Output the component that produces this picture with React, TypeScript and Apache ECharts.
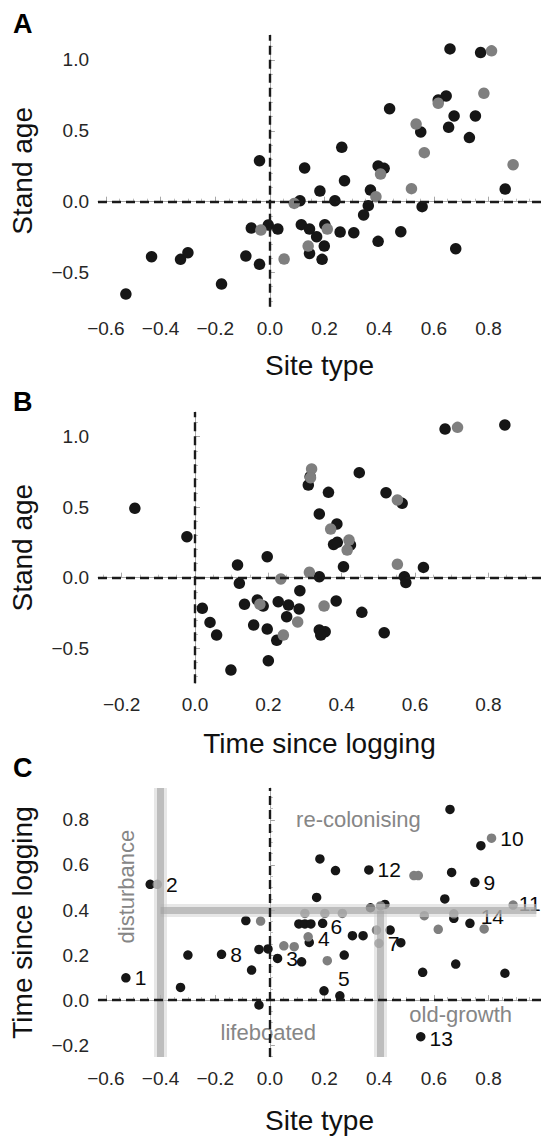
import React, { useEffect, useRef } from "react";
import * as echarts from "echarts";

// ---------- Panel A: Stand age vs Site type ----------
const aBlack: [number, number][] = [
  [0.659, 1.078], [0.771, 1.052], [0.645, 0.746], [0.616, 0.718], [0.438, 0.656],
  [0.674, 0.605], [0.752, 0.605], [0.654, 0.525], [0.552, 0.492], [0.73, 0.452],
  [0.263, 0.384], [-0.038, 0.289], [0.127, 0.238], [0.396, 0.252], [0.418, 0.235],
  [0.273, 0.148], [0.183, 0.075], [0.368, 0.082], [0.861, 0.089], [0.11, 0.007],
  [0.238, 0.007], [0.557, -0.035], [0.36, -0.028], [0.343, -0.094], [-0.006, -0.165],
  [-0.068, -0.186], [0.029, -0.193], [0.115, -0.162], [0.145, -0.193], [0.201, -0.162],
  [0.171, -0.247], [0.257, -0.214], [0.307, -0.219], [0.479, -0.212], [0.199, -0.313],
  [0.145, -0.365], [0.191, -0.407], [0.396, -0.28], [0.68, -0.332], [-0.433, -0.388],
  [-0.327, -0.407], [-0.3, -0.36], [-0.088, -0.384], [-0.038, -0.442], [-0.177, -0.581],
  [-0.527, -0.652],
];
const aGray: [number, number][] = [
  [0.811, 1.064], [0.783, 0.765], [0.616, 0.694], [0.535, 0.548], [0.565, 0.346],
  [0.405, 0.195], [0.89, 0.261], [0.518, 0.092], [0.388, 0.035], [0.089, -0.012],
  [-0.033, -0.2], [0.21, -0.193], [0.14, -0.313], [0.052, -0.405],
];

// ---------- Panel B: Stand age vs Time since logging ----------
const bBlack: [number, number][] = [
  [0.845, 1.083], [0.682, 1.054], [0.448, 0.745], [0.314, 0.716], [0.309, 0.657],
  [0.364, 0.605], [0.521, 0.603], [0.565, 0.527], [-0.164, 0.492], [0.339, 0.452],
  [0.387, 0.381], [-0.022, 0.291], [0.378, 0.236], [0.388, 0.251], [0.424, 0.232],
  [0.197, 0.149], [0.116, 0.09], [0.405, 0.078], [0.623, 0.073], [0.339, 0.007],
  [0.571, 0.007], [0.575, -0.035], [0.121, -0.04], [0.286, -0.092], [0.02, -0.217],
  [0.135, -0.189], [0.17, -0.158], [0.186, -0.201], [0.227, -0.17], [0.255, -0.194],
  [0.284, -0.222], [0.385, -0.165], [0.25, -0.277], [0.041, -0.317], [0.16, -0.336],
  [0.197, -0.364], [0.455, -0.246], [0.059, -0.407], [0.223, -0.444], [0.339, -0.371],
  [0.355, -0.383], [0.343, -0.407], [0.516, -0.39], [0.2, -0.589], [0.098, -0.655],
];
const bGray: [number, number][] = [
  [0.716, 1.066], [0.318, 0.771], [0.315, 0.709], [0.552, 0.551], [0.37, 0.345],
  [0.42, 0.267], [0.415, 0.196], [0.552, 0.095], [0.312, 0.038], [0.234, -0.009],
  [0.177, -0.189], [0.352, -0.201], [0.28, -0.314], [0.241, -0.407],
];

// ---------- Panel C: Time since logging vs Site type ----------
const cBlack: [number, number][] = [
  [0.659, 0.847], [0.183, 0.627], [0.24, 0.575], [0.665, 0.567], [0.171, 0.456],
  [0.64, 0.449], [0.421, 0.425], [0.368, 0.41], [0.673, 0.363], [-0.088, 0.353],
  [0.106, 0.338], [0.128, 0.338], [0.15, 0.338], [0.44, 0.311], [0.302, 0.286],
  [0.341, 0.286], [0.479, 0.255], [-0.04, 0.225], [-0.007, 0.227], [-0.3, 0.2],
  [0.116, 0.17], [0.272, 0.2], [-0.067, 0.133], [0.559, 0.123], [0.68, 0.16],
  [0.86, 0.119], [-0.327, 0.056], [-0.04, -0.022], [0.198, 0.041], [0.772, 0.686],
];
const cGray: [number, number][] = [
  [0.527, 0.553], [0.543, 0.553], [0.405, 0.418], [0.128, 0.385], [0.201, 0.385],
  [0.265, 0.385], [0.565, 0.375], [0.673, 0.383], [-0.034, 0.351], [0.616, 0.314],
  [0.784, 0.316], [0.39, 0.311], [0.051, 0.241], [0.089, 0.237], [0.21, 0.175],
  [0.14, 0.281],
];
// numbered sites: [label, site type, time since logging, group]
const cNumbered: [string, number, number, "black" | "gray"][] = [
  ["1", -0.527, 0.099, "black"],
  ["2", -0.412, 0.514, "gray"],
  ["3", 0.028, 0.185, "black"],
  ["4", 0.144, 0.256, "black"],
  ["5", 0.256, 0.019, "black"],
  ["6", 0.193, 0.341, "black"],
  ["7", 0.399, 0.252, "gray"],
  ["8", -0.177, 0.203, "black"],
  ["9", 0.75, 0.523, "black"],
  ["10", 0.811, 0.719, "gray"],
  ["11", 0.89, 0.422, "gray"],
  ["12", 0.362, 0.578, "black"],
  ["13", 0.552, -0.163, "black"],
  ["14", 0.732, 0.341, "black"],
];
const cExtraBlack: [number, number][] = [[-0.438, 0.514]];
// threshold bands (data space)
const cBands: [number, number][][] = [
  [[-0.4, 0.942], [-0.4, -0.253]],
  [[-0.4, 0.397], [0.975, 0.397]],
  [[0.402, 0.397], [0.402, -0.253]],
];
// region names: [text, x, y]
const cRegions: [string, number, number][] = [
  ["re-colonising", 0.324, 0.803],
  ["disturbance", -0.524, 0.504],
  ["lifeboated", -0.006, -0.144],
  ["old-growth", 0.698, -0.066],
];

// ---------- axes ----------
const xTicksAC = [-0.6, -0.4, -0.2, 0, 0.2, 0.4, 0.6, 0.8];
const xTicksB = [-0.2, 0, 0.2, 0.4, 0.6, 0.8];
const yTicksAB = [-0.5, 0, 0.5, 1.0];
const yTicksC = [-0.2, 0, 0.2, 0.4, 0.6, 0.8];
const rangeAx = [-0.629, 0.992];
const rangeAy = [-0.741, 1.176];
const rangeBx = [-0.2645, 0.9436];
const rangeBy = [-0.749, 1.175];
const rangeCx = [-0.629, 0.992];
const rangeCy = [-0.253, 0.942];

const FONT = '"Liberation Sans", Arial, Helvetica, sans-serif';
const BLACK = "#161616";
const GRAY = "#7f7f7f";

const fmt = (v: number) => {
  const r = Math.round(v * 10) / 10;
  return (r < 0 ? "\u2212" : "") + Math.abs(r).toFixed(1);
};

function minorTicks(range: number[], step: number, majors: number[]) {
  const out: number[] = [];
  const start = Math.ceil(range[0] / step - 1e-9);
  for (let k = start; k * step <= range[1] + 1e-9; k++) {
    const v = +(k * step).toFixed(4);
    if (!majors.some((m) => Math.abs(m - v) < 1e-6)) out.push(v);
  }
  return out;
}

function axisPair(
  gridIndex: number,
  range: number[],
  majors: number[],
  minorStep: number,
  name: string,
  nameGap: number,
  isX: boolean
) {
  const main: any = {
    type: "value",
    gridIndex,
    min: range[0],
    max: range[1],
    position: isX ? "bottom" : "left",
    name,
    nameLocation: "middle",
    nameGap,
    nameTextStyle: { fontSize: 28, color: "#111", fontFamily: FONT },
    axisLine: { show: true, lineStyle: { color: "#a8a8a8", width: 1 } },
    axisTick: {
      show: true,
      inside: true,
      length: 5,
      customValues: majors,
      lineStyle: { color: "#a8a8a8" },
    },
    axisLabel: {
      customValues: majors,
      formatter: fmt,
      fontSize: 19,
      color: "#262626",
      margin: isX ? 12 : 9,
      fontFamily: FONT,
    },
    splitLine: { show: false },
  };
  const minor: any = {
    type: "value",
    gridIndex,
    min: range[0],
    max: range[1],
    position: isX ? "bottom" : "left",
    axisLine: { show: false },
    axisTick: {
      show: true,
      inside: true,
      length: 3,
      customValues: minorTicks(range, minorStep, majors),
      lineStyle: { color: "#bdbdbd" },
    },
    axisLabel: { show: false },
    splitLine: { show: false },
  };
  return [main, minor];
}

const dashed = {
  silent: true,
  symbol: ["none", "none"],
  label: { show: false },
  lineStyle: { type: [9, 5], width: 2.4, color: "#1a1a1a", opacity: 1 },
  emphasis: { disabled: true },
  data: [{ xAxis: 0 }, { yAxis: 0 }],
};

const labelStyle: Record<string, any> = {
  "5": { position: "top", distance: 2, offset: [4, 0] },
  "6": { position: "right", distance: 3, offset: [0, 3] },
  "14": { position: "right", distance: 4, offset: [2, -7] },
  "4": { position: "right", distance: 4, offset: [0, -4] },
  "11": { position: "right", distance: 3, offset: [-2, -2] },
  "13": { position: "right", distance: 4, offset: [0, 2] },
};

export default function App() {
  const ref = useRef<HTMLDivElement>(null);
  useEffect(() => {
    if (!ref.current) return;
    const chart = echarts.init(ref.current, undefined, { renderer: "svg" });

    const numberedItems = (group: string) =>
      cNumbered
        .filter((d) => d[3] === group)
        .map((d) => ({
          value: [d[1], d[2]],
          label: {
            show: true,
            formatter: d[0],
            position: "right",
            distance: 4,
            fontSize: 21,
            color: "#0a0a0a",
            fontFamily: FONT,
            ...(labelStyle[d[0]] || {}),
          },
        }));

    const xA = axisPair(0, rangeAx, xTicksAC, 0.05, "Site type", 45, true);
    const yA = axisPair(0, rangeAy, yTicksAB, 0.1, "Stand age", 62, false);
    const xB = axisPair(1, rangeBx, xTicksB, 0.05, "Time since logging", 46, true);
    const yB = axisPair(1, rangeBy, yTicksAB, 0.1, "Stand age", 62, false);
    const xC = axisPair(2, rangeCx, xTicksAC, 0.05, "Site type", 49, true);
    const yC = axisPair(2, rangeCy, yTicksC, 0.05, "Time since logging", 62, false);

    const dot = (color: string) => ({ color, opacity: 1 });

    const option: any = {
      animation: false,
      backgroundColor: "#fff",
      textStyle: { fontFamily: FONT },
      grid: [
        { left: 98, right: 0, top: 35, height: 271.7 },
        { left: 98, right: 0, top: 412, height: 271.3 },
        { left: 98, right: 0, top: 788, height: 269 },
      ],
      xAxis: [...xA, ...xB, ...xC],
      yAxis: [...yA, ...yB, ...yC],
      graphic: [
        { type: "text", left: 13, top: 10, style: { text: "A", font: `bold 27px ${FONT}`, fill: "#000" } },
        { type: "text", left: 13, top: 388, style: { text: "B", font: `bold 27px ${FONT}`, fill: "#000" } },
        { type: "text", left: 13, top: 754, style: { text: "C", font: `bold 27px ${FONT}`, fill: "#000" } },
      ],
      series: [
        // Panel A
        {
          type: "scatter", xAxisIndex: 0, yAxisIndex: 0, data: aBlack, symbolSize: 11.5,
          itemStyle: dot(BLACK), markLine: dashed, silent: true,
        },
        { type: "scatter", xAxisIndex: 0, yAxisIndex: 0, data: aGray, symbolSize: 11.5, itemStyle: dot(GRAY), silent: true },
        // Panel B
        {
          type: "scatter", xAxisIndex: 2, yAxisIndex: 2, data: bBlack, symbolSize: 11.5,
          itemStyle: dot(BLACK), markLine: dashed, silent: true,
        },
        { type: "scatter", xAxisIndex: 2, yAxisIndex: 2, data: bGray, symbolSize: 11.5, itemStyle: dot(GRAY), silent: true },
        // Panel C
        {
          type: "scatter", xAxisIndex: 4, yAxisIndex: 4,
          data: [...cBlack, ...cExtraBlack, ...numberedItems("black")],
          symbolSize: 9.5, itemStyle: dot(BLACK), markLine: dashed, silent: true,
        },
        {
          type: "scatter", xAxisIndex: 4, yAxisIndex: 4,
          data: [...cGray, ...numberedItems("gray")],
          symbolSize: 9.5, itemStyle: dot(GRAY), silent: true,
        },
        {
          type: "lines", coordinateSystem: "cartesian2d", xAxisIndex: 4, yAxisIndex: 4,
          data: cBands.map((b) => ({ coords: b })), silent: true, z: 3,
          lineStyle: { color: "#d4d4d4", width: 13, opacity: 0.55, curveness: 0 },
        },
        {
          type: "lines", coordinateSystem: "cartesian2d", xAxisIndex: 4, yAxisIndex: 4,
          data: cBands.map((b) => ({ coords: b })), silent: true, z: 3,
          lineStyle: { color: "#a2a2a2", width: 7, opacity: 0.6, curveness: 0 },
        },
        {
          type: "scatter", xAxisIndex: 4, yAxisIndex: 4, silent: true, z: 4,
          symbolSize: 1, itemStyle: { color: "rgba(0,0,0,0)", opacity: 1 },
          data: cRegions.map((r) => ({
            value: [r[1], r[2]],
            label: {
              show: true,
              formatter: r[0],
              position: "inside",
              fontSize: 22,
              color: "#868686",
              fontFamily: FONT,
              rotate: r[0] === "disturbance" ? 90 : 0,
            },
          })),
        },
      ],
    };
    chart.setOption(option);
    return () => chart.dispose();
  }, []);
  return (
    <div
      ref={ref}
      style={{ position: "absolute", left: 0, top: 0, width: 541, height: 1136, background: "#fff" }}
    />
  );
}
